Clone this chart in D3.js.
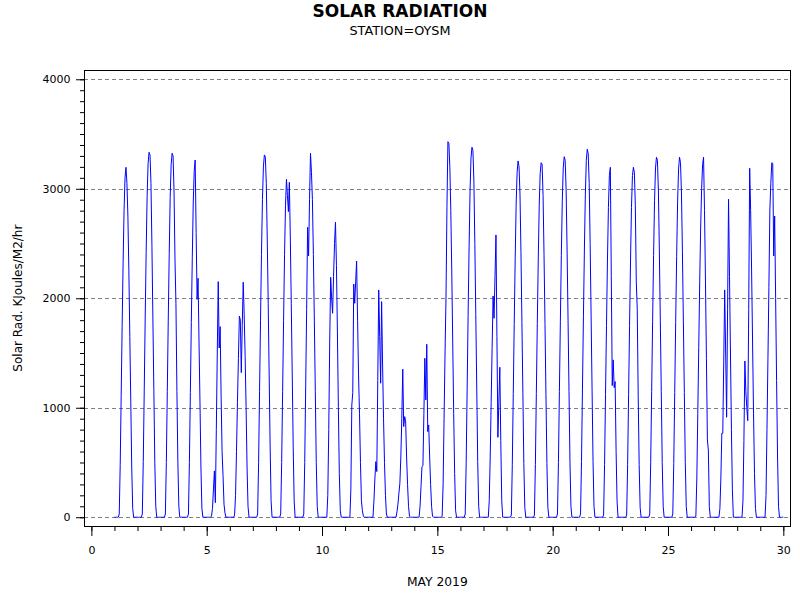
<!DOCTYPE html>
<html>
<head>
<meta charset="utf-8">
<script src="https://cdn.jsdelivr.net/npm/d3@7"></script>
<style>
body { margin: 0; background: #fff; }
svg { display: block; font-family: "DejaVu Sans", sans-serif; }
</style>
</head>
<body>
<svg id="chart" width="800" height="600"></svg>
<script>
// hourly solar radiation (KJoules/M2/hr), hours 0..23 of each day, May 2019
var may01 = [0,0,0,0,0, 30,480,1110,1740,2320,2800,3100,3196,3050,2750,2250,1650,1050,450,80, 0,0,0,0];
var may02 = [0,0,0,0,0, 30,510,1160,1820,2420,2930,3230,3333,3310,3050,2480,1820,1160,500,100, 0,0,0,0];
var may03 = [0,0,0,0,0, 30,500,1150,1800,2410,2920,3220,3324,3300,2980,2350,1950,1150,500,100, 0,0,0,0];
var may04 = [0,0,0,0,0, 30,500,1140,1780,2370,2870,3160,3263,2600,1990,2183,1600,1050,450,80, 0,0,0,0];
var may05 = [0,0,0,0,0, 10,80,250,423,133,800,1500,2152,1546,1741,1100,600,380,120,40, 0,0,0,0];
var may06 = [0,0,0,0,0, 20,200,600,1050,1450,1838,1800,1321,1750,2146,1850,1467,1000,450,100, 0,0,0,0];
var may07 = [0,0,0,0,0, 30,500,1150,1800,2400,2900,3200,3309,3290,3050,2550,1950,1300,650,150, 0,0,0,0];
var may08 = [0,0,0,0,0, 30,500,1150,1800,2400,2850,3087,2940,2791,3059,2550,1950,1300,650,150, 0,0,0,0];
var may09 = [0,0,0,0,0, 30,500,1200,1900,2648,2386,2900,3324,3150,2900,2400,1800,1150,500,100, 0,0,0,0];
var may10 = [0,0,0,0,0, 0,200,800,1600,2192,2000,1863,2200,2500,2694,2300,1700,1000,400,60, 0,0,0,0];
var may11 = [0,0,0,0,0, 0,250,1025,1138,2130,1954,2150,2340,1800,1300,950,500,150,60,10, 0,0,0,0];
var may12 = [0,0,0,0,0, 0,150,350,508,417,1250,2076,1650,1224,1969,1400,900,500,200,30, 0,0,0,0];
var may13 = [0,0,0,0,0, 0,50,120,220,310,550,900,1352,828,919,880,550,300,100,10, 0,0,0,0];
var may14 = [0,0,0,0,0, 0,100,280,462,470,950,1452,1071,1580,782,843,550,300,100,10, 0,0,0,0];
var may15 = [0,0,0,0,0, 10,300,900,1500,2000,2837,3430,3415,3200,2800,2250,1600,950,400,60, 0,0,0,0];
var may16 = [0,0,0,0,0, 30,500,1170,1840,2450,2970,3280,3379,3350,3080,2500,1850,1180,510,100, 0,0,0,0];
var may17 = [0,0,0,0,0, 0,150,550,1050,1550,2021,1817,2200,2578,1650,730,1050,1370,700,150, 0,0,0,0];
var may18 = [0,0,0,0,0, 20,480,1130,1770,2360,2860,3150,3254,3200,2950,2420,1780,1130,490,90, 0,0,0,0];
var may19 = [0,0,0,0,0, 20,480,1130,1770,2350,2850,3140,3238,3225,2940,2400,1770,1120,490,90, 0,0,0,0];
var may20 = [0,0,0,0,0, 30,500,1150,1790,2390,2890,3190,3293,3260,2990,2440,1800,1150,500,100, 0,0,0,0];
var may21 = [0,0,0,0,0, 30,510,1170,1830,2440,2950,3260,3361,3320,3050,2500,1830,1170,510,100, 0,0,0,0];
var may22 = [0,0,0,0,0, 20,480,1120,1750,2340,2830,3120,3196,2200,1202,1437,1184,1239,600,150, 0,0,0,0];
var may23 = [0,0,0,0,0, 20,480,1120,1750,2340,2830,3120,3196,3150,2850,2150,1900,1100,480,90, 0,0,0,0];
var may24 = [0,0,0,0,0, 30,500,1150,1790,2390,2890,3190,3288,3260,2990,2440,1800,1150,500,100, 0,0,0,0];
var may25 = [0,0,0,0,0, 30,490,1140,1780,2380,2880,3180,3288,3240,2970,2430,1790,1140,500,100, 0,0,0,0];
var may26 = [0,0,0,0,0, 10,350,950,1550,2150,2650,3000,3220,3288,2800,2150,1450,706,614,100, 0,0,0,0];
var may27 = [0,0,0,0,0, 0,80,350,767,767,1420,2076,1500,913,1900,2904,2200,1500,800,250, 0,0,0,0];
var may28 = [0,0,0,0,0, 0,150,700,1427,1150,1000,882,1900,3187,2800,2250,1600,950,400,80, 0,0,0,0];
var may29 = [0,0,0,0,0, 0,200,800,1450,2100,2806,3050,3238,3232,2386,2751,2000,1250,550,100, 0,0,0,0];
var may30 = [0];

var days = [may01, may02, may03, may04, may05, may06, may07, may08, may09, may10,
            may11, may12, may13, may14, may15, may16, may17, may18, may19, may20,
            may21, may22, may23, may24, may25, may26, may27, may28, may29, may30];
var dayNumbers = [1,2,3,4,5,6,7,8,9,10,11,12,13,14,15,16,17,18,19,20,21,22,23,24,25,26,27,28,29,30];

var xMajor = [0, 5, 10, 15, 20, 25, 30];
var yMajor = [0, 1000, 2000, 3000, 4000];

var svg = d3.select("#chart");

// plot frame edges
var plotL = 84, plotR = 790.7, plotT = 70.3, plotB = 526;

var x = d3.scaleLinear().domain([-0.32, 30.32]).range([plotL, plotR]);
var y = d3.scaleLinear().domain([-80, 4082]).range([plotB, plotT]);

// flatten to hourly points
var data = [];
days.forEach(function(vals, i) {
  vals.forEach(function(v, h) {
    data.push({ t: dayNumbers[i] + h / 24, v: v });
  });
});

// titles
svg.append("text")
    .attr("x", 400).attr("y", 17)
    .attr("text-anchor", "middle")
    .style("font-size", "17px").style("font-weight", "bold")
    .text("SOLAR RADIATION");

svg.append("text")
    .attr("x", 400).attr("y", 35)
    .attr("text-anchor", "middle")
    .style("font-size", "12.8px")
    .text("STATION=OYSM");

// dashed reference lines
svg.append("g")
  .selectAll("line")
  .data(yMajor)
  .enter().append("line")
    .attr("x1", plotL).attr("x2", plotR)
    .attr("y1", function(d) { return Math.round(y(d)) + 0.5; })
    .attr("y2", function(d) { return Math.round(y(d)) + 0.5; })
    .attr("stroke", "#808080")
    .attr("stroke-dasharray", "4,3");

// the series
var valueline = d3.line()
    .x(function(d) { return x(d.t); })
    .y(function(d) { return y(d.v); });

svg.append("path")
    .datum(data)
    .attr("fill", "none")
    .attr("stroke", "#0000ff")
    .attr("stroke-width", 1)
    .attr("d", valueline);

// frame
svg.append("rect")
    .attr("x", plotL + 0.5).attr("y", Math.round(plotT) + 0.5)
    .attr("width", Math.round(plotR - plotL) - 1).attr("height", Math.round(plotB - plotT))
    .attr("fill", "none").attr("stroke", "#000");

// x axis: minor ticks every day, major every 5
var gx = svg.append("g").attr("transform", "translate(0," + plotB + ")");
gx.append("g")
    .call(d3.axisBottom(x).tickValues(d3.range(0, 31)).tickSize(5).tickFormat(""));
gx.append("g")
    .call(d3.axisBottom(x).tickValues(xMajor).tickSize(10).tickPadding(10.5));
gx.selectAll(".domain").remove();
gx.selectAll("text").style("font-size", "11px").style("font-family", "DejaVu Sans").attr("fill", "#000");
gx.selectAll("line").attr("stroke", "#000");

// y axis: minor ticks every 100, major every 1000
var gy = svg.append("g").attr("transform", "translate(" + plotL + ",0)");
gy.append("g")
    .call(d3.axisLeft(y).tickValues(d3.range(0, 4001, 100)).tickSize(4).tickFormat(""));
gy.append("g")
    .call(d3.axisLeft(y).tickValues(yMajor).tickSize(8).tickPadding(5.5).tickFormat(d3.format("d")));
gy.selectAll(".domain").remove();
gy.selectAll("text").style("font-size", "11px").style("font-family", "DejaVu Sans").attr("fill", "#000");
gy.selectAll("line").attr("stroke", "#000");

// axis labels
svg.append("text")
    .attr("x", (plotL + plotR) / 2).attr("y", 586)
    .attr("text-anchor", "middle")
    .style("font-size", "12.3px")
    .text("MAY 2019");

svg.append("text")
    .attr("transform", "translate(22," + (plotT + plotB) / 2 + ") rotate(-90)")
    .attr("text-anchor", "middle")
    .style("font-size", "12px")
    .text("Solar Rad. KJoules/M2/hr");
</script>
</body>
</html>
